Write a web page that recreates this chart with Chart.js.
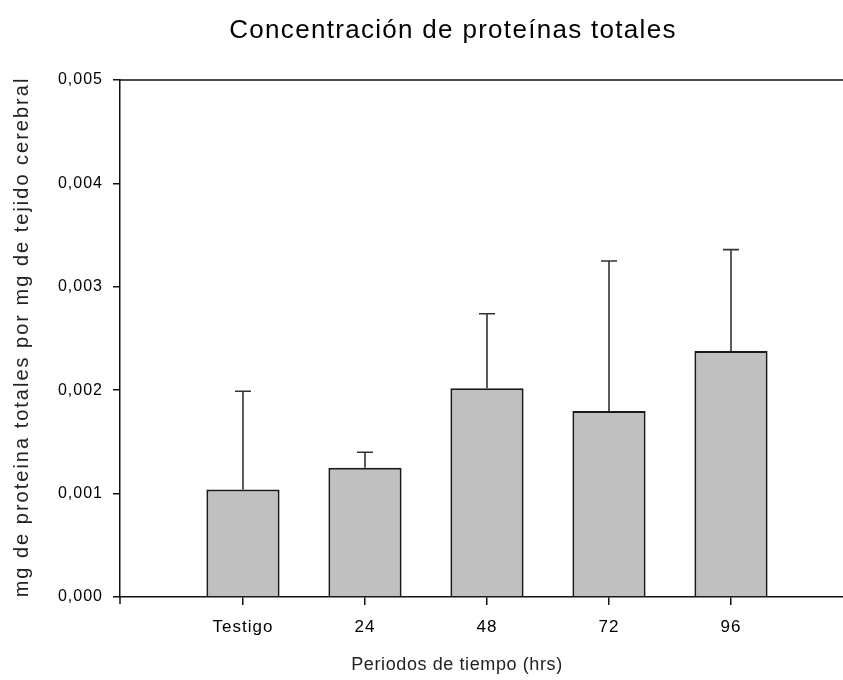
<!DOCTYPE html>
<html>
<head>
<meta charset="utf-8">
<script src="https://cdn.jsdelivr.net/npm/chart.js@4/dist/chart.umd.min.js"></script>
<style>
  html, body { margin: 0; padding: 0; background: #ffffff; }
  #wrap { width: 843px; height: 680px; }
</style>
</head>
<body>
<div id="wrap"><canvas id="c" width="843" height="680"></canvas></div>
<script>
// Protein concentration per time period (mean and upper SD)
const categories = ['Testigo', '24', '48', '72', '96'];
const means = [0.00104, 0.00125, 0.00202, 0.00180, 0.00238];
const sdUpper = [0.00095, 0.00015, 0.00072, 0.00145, 0.00098];
const yTickValues = [0, 0.001, 0.002, 0.003, 0.004, 0.005];

const titleText = 'Concentración de proteínas totales';
const xTitleText = 'Periodos de tiempo (hrs)';
const yTitleText = 'mg de proteina totales por mg de tejido cerebral';

const FONT = "'Liberation Sans', Arial, sans-serif";
const INK = '#111111';

// Slightly open spacing for the tick labels
const textSpacing = {
  id: 'textSpacing',
  beforeDraw(chart) {
    chart.ctx.letterSpacing = '1px';
  }
};

// Upward error bars with caps, placed through the chart's scales
const errorBars = {
  id: 'errorBars',
  afterDatasetsDraw(chart) {
    const ctx = chart.ctx;
    const yScale = chart.scales.y;
    const meta = chart.getDatasetMeta(0);
    ctx.save();
    ctx.strokeStyle = '#333333';
    ctx.lineWidth = 1.6;
    meta.data.forEach((bar, i) => {
      const x = bar.x;
      const yTop = yScale.getPixelForValue(means[i] + sdUpper[i]);
      ctx.beginPath();
      ctx.moveTo(x, bar.y);
      ctx.lineTo(x, yTop);
      ctx.moveTo(x - 8, yTop);
      ctx.lineTo(x + 8, yTop);
      ctx.stroke();
    });
    ctx.restore();
  }
};

// Frame line along the top, axis stub below the origin, and the titles
const frameAndTitles = {
  id: 'frameAndTitles',
  afterDraw(chart) {
    const ctx = chart.ctx;
    const a = chart.chartArea;
    ctx.save();
    ctx.strokeStyle = INK;
    ctx.lineWidth = 1.5;
    ctx.beginPath();
    ctx.moveTo(a.left, a.top);
    ctx.lineTo(a.right, a.top);
    ctx.moveTo(a.left, a.bottom);
    ctx.lineTo(a.left, a.bottom + 7);
    ctx.stroke();

    ctx.fillStyle = '#000000';
    ctx.textAlign = 'center';
    ctx.textBaseline = 'middle';

    ctx.font = '26px ' + FONT;
    ctx.letterSpacing = '1.3px';
    ctx.fillText(titleText, 453, 31);

    ctx.font = '18px ' + FONT;
    ctx.letterSpacing = '0.6px';
    ctx.fillStyle = '#222222';
    ctx.fillText(xTitleText, 457, 665);

    ctx.save();
    ctx.translate(22, 337);
    ctx.rotate(-Math.PI / 2);
    ctx.font = '20px ' + FONT;
    ctx.letterSpacing = '2px';
    ctx.fillText(yTitleText, 0, 0);
    ctx.restore();

    ctx.restore();
  }
};

new Chart(document.getElementById('c'), {
  type: 'bar',
  data: {
    datasets: [{
      data: means.map((v, i) => ({ x: i, y: v })),
      backgroundColor: '#c0c0c0',
      borderColor: '#1a1a1a',
      borderWidth: 2,
      barPercentage: 0.6,
      categoryPercentage: 1.0
    }]
  },
  options: {
    responsive: false,
    animation: false,
    devicePixelRatio: 1,
    layout: { padding: { top: 80, left: 0, right: 0, bottom: 0 } },
    plugins: {
      legend: { display: false },
      title: { display: false },
      tooltip: { enabled: false }
    },
    scales: {
      x: {
        type: 'linear',
        offset: false,
        min: -1.008,
        max: 4.918,
        afterBuildTicks(scale) {
          scale.ticks = categories.map((c, i) => ({ value: i }));
        },
        afterFit(scale) { scale.height = 83; },
        ticks: {
          autoSkip: false,
          maxRotation: 0,
          padding: 12,
          color: '#000000',
          font: { family: FONT, size: 17 },
          callback: (v) => categories[v]
        },
        grid: {
          offset: false,
          drawOnChartArea: false,
          drawTicks: true,
          tickLength: 8,
          color: INK,
          lineWidth: 1.5
        },
        border: { display: true, color: INK, width: 1.5 }
      },
      y: {
        min: 0,
        max: 0.005,
        afterBuildTicks(scale) {
          scale.ticks = yTickValues.map(v => ({ value: v }));
        },
        afterFit(scale) { scale.width = 120; },
        ticks: {
          padding: 10,
          color: '#000000',
          font: { family: FONT, size: 16 },
          callback: (v) => v.toFixed(3).replace('.', ',')
        },
        grid: {
          drawOnChartArea: false,
          drawTicks: true,
          tickLength: 7,
          color: INK,
          lineWidth: 1.5
        },
        border: { display: true, color: INK, width: 1.5 }
      }
    }
  },
  plugins: [textSpacing, errorBars, frameAndTitles]
});
</script>
</body>
</html>
